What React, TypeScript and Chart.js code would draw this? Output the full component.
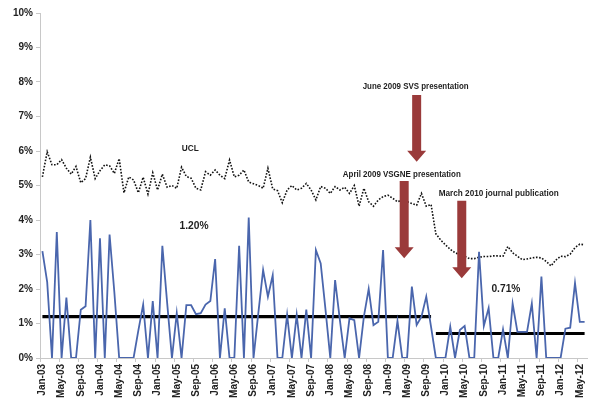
import React, { useEffect, useRef } from 'react';
import { Chart, registerables } from 'chart.js';

Chart.register(...registerables);

const MONTH_NAMES = ['Jan', 'Feb', 'Mar', 'Apr', 'May', 'Jun', 'Jul', 'Aug', 'Sep', 'Oct', 'Nov', 'Dec'];
const FIRST_YEAR = 2003;

// monthly rate (%), Jan-03 .. Jun-12
const RATE = [
  3.1, 2.2, 0, 3.65, 0, 1.75, 0, 0, 1.4, 1.5, 4.0, 0,
  3.47, 0, 3.58, 1.9, 0, 0, 0, 0, 0.8, 1.55, 0, 1.65,
  0, 3.25, 1.6, 0, 1.3, 0, 1.53, 1.53, 1.27, 1.3, 1.55, 1.65,
  2.87, 0, 1.44, 0, 0, 3.25, 0, 4.07, 0, 1.3, 2.55, 1.78,
  2.4, 0, 0, 1.25, 0, 1.25, 0, 1.4, 0, 3.13, 2.74, 1.4,
  0, 2.26, 1.1, 0, 1.15, 1.1, 0, 1.2, 2.0, 0.95, 1.05, 3.13,
  0, 0, 1.07, 0, 0, 2.07, 0.96, 1.2, 1.78, 0.9, 0, 0,
  0, 0.91, 0, 0.81, 0.93, 0, 0, 3.08, 0.93, 1.45, 0, 0,
  0.83, 0, 1.58, 0.76, 0.76, 0.76, 1.58, 0, 2.36, 0, 0, 0,
  0, 0.85, 0.88, 2.17, 1.05, 1.05,
];

// upper control limit (%)
const UCL = [
  5.25, 5.98, 5.6, 5.6, 5.75, 5.5, 5.33, 5.55, 5.08, 5.2, 5.82, 5.2,
  5.43, 5.6, 5.57, 5.35, 5.78, 4.79, 5.25, 5.16, 4.79, 5.24, 4.75, 5.37,
  4.87, 5.33, 4.95, 5.0, 4.92, 5.53, 5.26, 5.21, 4.92, 4.87, 5.4, 5.3,
  5.45, 5.3, 5.2, 5.74, 5.25, 5.3, 5.45, 5.1, 5.05, 5.0, 4.92, 5.5,
  4.9, 4.85, 4.5, 4.87, 5.0, 4.87, 4.92, 5.06, 4.87, 4.58, 4.97, 4.92,
  4.77, 4.97, 4.87, 4.95, 4.77, 5.0, 4.4, 4.92, 4.53, 4.4, 4.58, 4.68,
  4.72, 4.63, 4.53, 4.58, 4.53, 4.48, 4.43, 4.77, 4.4, 4.45, 3.6, 3.42,
  3.28, 3.15, 3.05, 3.0, 2.95, 2.88, 2.88, 2.92, 2.94, 2.94, 2.96, 2.96,
  2.95, 3.23, 3.05, 2.95, 2.85, 2.87, 2.9, 2.92, 2.9, 2.8, 2.67, 2.84,
  2.95, 2.94, 3.01, 3.2, 3.3, 3.28,
];

const MEAN_BEFORE = 1.2;
const MEAN_AFTER = 0.71;
const SPLIT_INDEX = 82; // first month of the "after" period (Nov-09)

const Y_MIN = 0;
const Y_MAX = 10;
const Y_STEP = 1;
const LABEL_EVERY = 4;

const CATEGORIES = RATE.map((_, i) => {
  const yr = (FIRST_YEAR + Math.floor(i / 12)) % 100;
  return `${MONTH_NAMES[i % 12]}-${String(yr).padStart(2, '0')}`;
});

const MEAN_BEFORE_SERIES = RATE.map((_, i) => (i < SPLIT_INDEX ? MEAN_BEFORE : null));
const MEAN_AFTER_SERIES = RATE.map((_, i) => (i >= SPLIT_INDEX ? MEAN_AFTER : null));

// annotations, placed in data coordinates (category index, % value)
const ARROWS = [
  { x: 78.0, top: 7.62, tip: 5.69 },
  { x: 75.4, top: 5.13, tip: 2.89 },
  { x: 87.4, top: 4.56, tip: 2.31 },
];
const NOTES = [
  { text: 'June 2009 SVS presentation', x: 77.8, y: 7.88, size: 9, w: 106 },
  { text: 'April 2009 VSGNE presentation', x: 74.9, y: 5.33, size: 9, w: 118 },
  { text: 'March 2010 journal publication', x: 95.1, y: 4.78, size: 9, w: 120 },
  { text: 'UCL', x: 30.8, y: 6.06, size: 9, w: 17 },
  { text: MEAN_BEFORE.toFixed(2) + '%', x: 31.6, y: 3.83, size: 11, w: 29 },
  { text: MEAN_AFTER.toFixed(2) + '%', x: 96.6, y: 2.0, size: 11, w: 29 },
];

const annotationPlugin = {
  id: 'annotations',
  afterDatasetsDraw(chart: any) {
    const { ctx, scales } = chart;
    const xs = scales.x;
    const ys = scales.y;
    ctx.save();
    ARROWS.forEach((a) => {
      const cx = xs.getPixelForValue(a.x);
      const top = ys.getPixelForValue(a.top);
      const tip = ys.getPixelForValue(a.tip);
      const headLen = 11;
      const shaftHalf = 4.5;
      const headHalf = 9.5;
      ctx.fillStyle = '#9a3a3a';
      ctx.beginPath();
      ctx.moveTo(cx - shaftHalf, top);
      ctx.lineTo(cx + shaftHalf, top);
      ctx.lineTo(cx + shaftHalf, tip - headLen);
      ctx.lineTo(cx + headHalf, tip - headLen);
      ctx.lineTo(cx, tip);
      ctx.lineTo(cx - headHalf, tip - headLen);
      ctx.lineTo(cx - shaftHalf, tip - headLen);
      ctx.closePath();
      ctx.fill();
    });
    NOTES.forEach((n) => {
      ctx.font = `bold ${n.size}px "Liberation Sans", Arial, sans-serif`;
      ctx.fillStyle = '#1e1e1e';
      ctx.textAlign = 'center';
      ctx.textBaseline = 'middle';
      ctx.fillText(n.text, xs.getPixelForValue(n.x), ys.getPixelForValue(n.y), n.w);
    });
    ctx.restore();
  },
};

export default function App() {
  const canvasRef = useRef<HTMLCanvasElement | null>(null);

  useEffect(() => {
    document.body.style.margin = '0';
    const canvas = canvasRef.current;
    if (!canvas) return;
    const chart = new Chart(canvas, {
      type: 'line',
      data: {
        labels: CATEGORIES,
        datasets: [
          {
            label: 'Rate',
            data: RATE,
            borderColor: '#4a66ad',
            borderWidth: 1.8,
            pointRadius: 0,
            tension: 0,
          },
          {
            label: 'UCL',
            data: UCL,
            borderColor: '#111111',
            borderWidth: 1.6,
            borderDash: [1.6, 1.6],
            pointRadius: 0,
            tension: 0,
          },
          {
            label: 'Mean before',
            data: MEAN_BEFORE_SERIES,
            borderColor: '#000000',
            borderWidth: 3.2,
            pointRadius: 0,
            spanGaps: false,
          },
          {
            label: 'Mean after',
            data: MEAN_AFTER_SERIES,
            borderColor: '#000000',
            borderWidth: 3.2,
            pointRadius: 0,
            spanGaps: false,
          },
        ],
      },
      options: {
        animation: false,
        responsive: false,
        devicePixelRatio: 1,
        layout: { padding: { top: 13, right: 13, left: 0, bottom: 0 } },
        plugins: {
          legend: { display: false },
          tooltip: { enabled: false },
        },
        scales: {
          x: {
            type: 'category',
            offset: true,
            grid: {
              drawOnChartArea: false,
              offset: true,
              tickLength: 4,
              color: (c: any) => (c.index % LABEL_EVERY === 0 ? '#c8c8c8' : 'rgba(0,0,0,0)'),
            },
            border: { color: '#c8c8c8', width: 1 },
            ticks: {
              autoSkip: false,
              minRotation: 90,
              maxRotation: 90,
              padding: 2,
              color: '#222222',
              font: { family: '"Liberation Sans", Arial, sans-serif', size: 10, weight: 'bold' },
              callback: (_v: any, i: number) => (i % LABEL_EVERY === 0 ? CATEGORIES[i] : ''),
            },
            afterFit: (s: any) => {
              s.height = 51;
            },
          },
          y: {
            min: Y_MIN,
            max: Y_MAX,
            grid: { drawOnChartArea: false, tickLength: 4, color: '#c8c8c8' },
            border: { color: '#c8c8c8', width: 1 },
            ticks: {
              stepSize: Y_STEP,
              padding: 3,
              color: '#222222',
              font: { family: '"Liberation Sans", Arial, sans-serif', size: 10, weight: 'bold' },
              callback: (v: any) => `${v}%`,
            },
            afterFit: (s: any) => {
              s.width = 40;
            },
          },
        },
      },
      plugins: [annotationPlugin],
    });
    return () => chart.destroy();
  }, []);

  return (
    <div style={{ width: 600, height: 409, background: '#ffffff' }}>
      <canvas ref={canvasRef} width={600} height={409} />
    </div>
  );
}
